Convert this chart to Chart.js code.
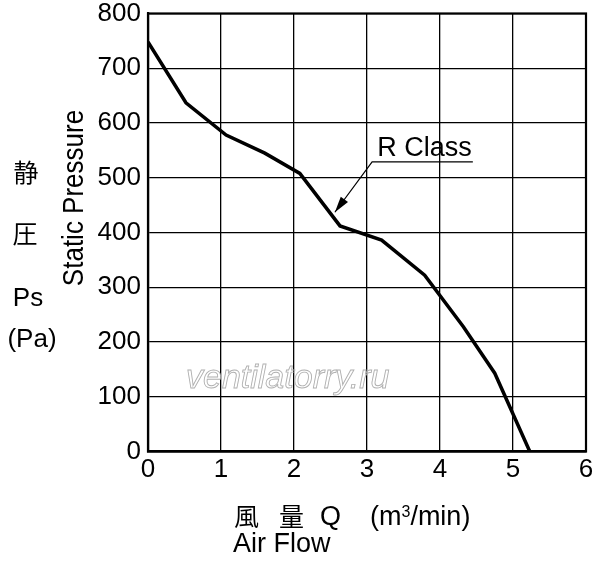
<!DOCTYPE html>
<html>
<head>
<meta charset="utf-8">
<script src="https://cdn.jsdelivr.net/npm/chart.js@4/dist/chart.umd.min.js"></script>
<style>
  html, body { margin: 0; padding: 0; background: #fff; }
  #wrap { width: 600px; height: 562px; }
</style>
</head>
<body>
<div id="wrap"><canvas id="fanChart"></canvas></div>
<script>
// air flow (m3/min) vs static pressure (Pa)
const airFlow = [0, 0.52, 1.07, 1.6, 2.08, 2.63, 3.2, 3.79, 4.32, 4.75, 5.23];
const staticPressure = [748, 637, 578, 545, 508, 412, 386, 322, 228, 143, 0];
const xTicks = [0, 1, 2, 3, 4, 5, 6];
const yTicks = [0, 100, 200, 300, 400, 500, 600, 700, 800];
const seriesName = 'R Class';

const latin = '"Liberation Sans", Arial, sans-serif';
const cjk = '"Noto Sans CJK JP", "Liberation Sans", sans-serif';

const decorations = {
  id: 'decorations',
  afterDraw(chart) {
    const { ctx, chartArea: a, scales: { x, y } } = chart;
    ctx.save();
    ctx.fillStyle = '#000';
    ctx.strokeStyle = '#000';

    // frame
    ctx.lineWidth = 2.2;
    ctx.strokeRect(a.left, a.top, a.right - a.left, a.bottom - a.top);

    // series label with leader arrow
    ctx.font = '27px ' + latin;
    ctx.textBaseline = 'alphabetic';
    ctx.textAlign = 'left';
    ctx.fillText(seriesName, x.getPixelForValue(3.14), y.getPixelForValue(540));
    const ux0 = x.getPixelForValue(3.07), ux1 = x.getPixelForValue(4.45);
    const uy = y.getPixelForValue(529);
    const tx = x.getPixelForValue(2.56), ty = y.getPixelForValue(437);
    ctx.lineWidth = 1.2;
    ctx.beginPath();
    ctx.moveTo(ux1, uy);
    ctx.lineTo(ux0, uy);
    ctx.lineTo(tx, ty);
    ctx.stroke();
    const ang = Math.atan2(ty - uy, tx - ux0);
    ctx.beginPath();
    ctx.moveTo(tx, ty);
    ctx.lineTo(tx - 16 * Math.cos(ang) + 4.5 * Math.sin(ang), ty - 16 * Math.sin(ang) - 4.5 * Math.cos(ang));
    ctx.lineTo(tx - 16 * Math.cos(ang) - 4.5 * Math.sin(ang), ty - 16 * Math.sin(ang) + 4.5 * Math.cos(ang));
    ctx.closePath();
    ctx.fill();

    // watermark
    ctx.font = 'italic 34px ' + latin;
    ctx.strokeStyle = '#b0b0b0';
    ctx.lineWidth = 0.9;
    ctx.strokeText('ventilatorry.ru', 186, 388);

    // y titles
    ctx.fillStyle = '#000';
    ctx.save();
    ctx.translate(83, 198);
    ctx.rotate(-Math.PI / 2);
    ctx.scale(1, 1.1);
    ctx.font = '26px ' + latin;
    ctx.textAlign = 'center';
    ctx.fillText('Static Pressure', 0, 0);
    ctx.restore();
    ctx.textAlign = 'center';
    ctx.textBaseline = 'middle';
    ctx.font = '25px ' + cjk;
    ctx.fillText('静', 26, 172);
    ctx.fillText('圧', 25, 233);
    ctx.font = '26px ' + latin;
    ctx.fillText('Ps', 28, 299);
    ctx.fillText('(Pa)', 32, 340);

    // x titles
    ctx.textAlign = 'left';
    ctx.textBaseline = 'alphabetic';
    ctx.font = '25px ' + cjk;
    ctx.fillText('風', 234, 526);
    ctx.fillText('量', 279, 526);
    ctx.font = '27px ' + latin;
    ctx.fillText('Q', 320, 525);
    ctx.fillText('(m', 370, 525);
    const mw = ctx.measureText('(m').width;
    ctx.font = '16px ' + latin;
    ctx.fillText('3', 370 + mw, 517);
    const sw = ctx.measureText('3').width;
    ctx.font = '27px ' + latin;
    ctx.fillText('/min)', 370 + mw + sw, 525);
    ctx.fillText('Air Flow', 233, 552);
    ctx.restore();
  }
};

new Chart(document.getElementById('fanChart'), {
  type: 'scatter',
  data: {
    datasets: [{
      label: seriesName,
      data: airFlow.map((q, i) => ({ x: q, y: staticPressure[i] })),
      showLine: true,
      borderColor: '#000',
      borderWidth: 3.5,
      pointRadius: 0,
      tension: 0,
      fill: false
    }]
  },
  options: {
    responsive: true,
    maintainAspectRatio: false,
    animation: false,
    events: [],
    layout: { padding: { top: 13.5, right: 14, bottom: 0, left: 0 } },
    plugins: { legend: { display: false }, tooltip: { enabled: false } },
    scales: {
      x: {
        type: 'linear',
        min: 0, max: 6,
        afterBuildTicks: s => { s.ticks = xTicks.map(v => ({ value: v })); },
        afterFit: s => { s.height = 110.5; s.paddingLeft = 0; s.paddingRight = 0; },
        grid: { color: '#000', lineWidth: 1.3, drawTicks: false },
        border: { color: '#000', width: 2.2 },
        ticks: { color: '#000', padding: 3, font: { family: latin, size: 26 } }
      },
      y: {
        type: 'linear',
        min: 0, max: 800,
        afterBuildTicks: s => { s.ticks = yTicks.map(v => ({ value: v })); },
        afterFit: s => { s.width = 148; s.paddingTop = 0; s.paddingBottom = 0; },
        grid: { color: '#000', lineWidth: 1.3, drawTicks: false },
        border: { color: '#000', width: 2.2 },
        ticks: { color: '#000', padding: 7, font: { family: latin, size: 26 } }
      }
    }
  },
  plugins: [decorations]
});
</script>
</body>
</html>
